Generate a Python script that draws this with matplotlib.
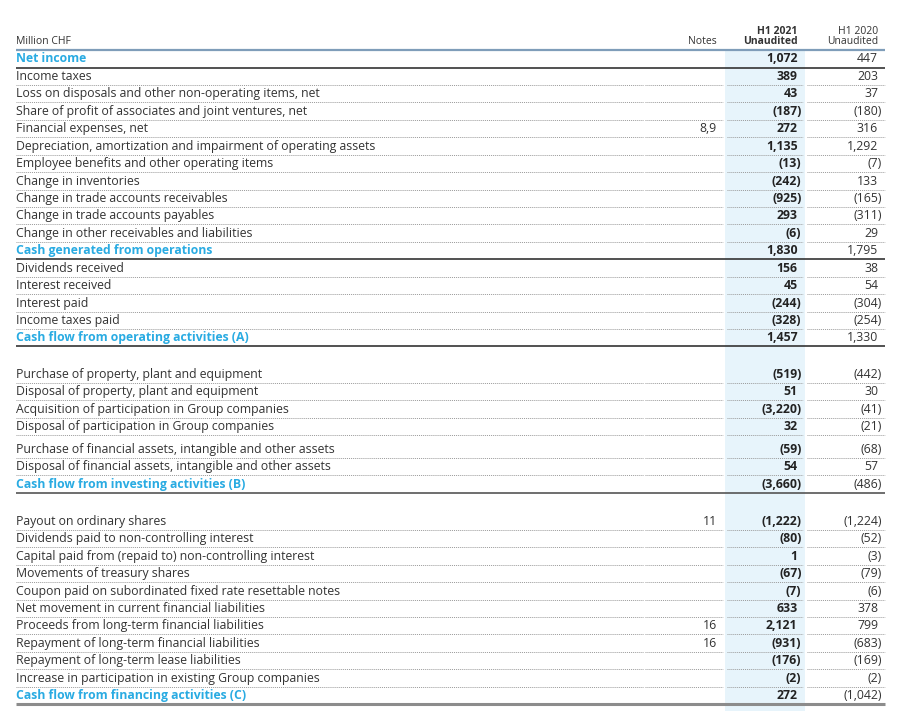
import matplotlib
matplotlib.use('Agg')
import matplotlib.pyplot as plt

plt.rcParams['font.family'] = ['Open Sans', 'DejaVu Sans']

# ---- data ----
labels = [
    'Net income',
    'Income taxes',
    'Loss on disposals and other non-operating items, net',
    'Share of profit of associates and joint ventures, net',
    'Financial expenses, net',
    'Depreciation, amortization and impairment of operating assets',
    'Employee benefits and other operating items',
    'Change in inventories',
    'Change in trade accounts receivables',
    'Change in trade accounts payables',
    'Change in other receivables and liabilities',
    'Cash generated from operations',
    'Dividends received',
    'Interest received',
    'Interest paid',
    'Income taxes paid',
    'Cash flow from operating activities (A)',
    'Purchase of property, plant and equipment',
    'Disposal of property, plant and equipment',
    'Acquisition of participation in Group companies',
    'Disposal of participation in Group companies',
    'Purchase of financial assets, intangible and other assets',
    'Disposal of financial assets, intangible and other assets',
    'Cash flow from investing activities (B)',
    'Payout on ordinary shares',
    'Dividends paid to non-controlling interest',
    'Capital paid from (repaid to) non-controlling interest',
    'Movements of treasury shares',
    'Coupon paid on subordinated fixed rate resettable notes',
    'Net movement in current financial liabilities',
    'Proceeds from long-term financial liabilities',
    'Repayment of long-term financial liabilities',
    'Repayment of long-term lease liabilities',
    'Increase in participation in existing Group companies',
    'Cash flow from financing activities (C)',
]

notes = {4: '8,9', 24: '11', 30: '16', 31: '16'}

h1_2021 = [1072, 389, 43, -187, 272, 1135, -13, -242, -925, 293, -6, 1830,
           156, 45, -244, -328, 1457,
           -519, 51, -3220, 32, -59, 54, -3660,
           -1222, -80, 1, -67, -7, 633, 2121, -931, -176, -2, 272]

h1_2020 = [447, 203, 37, -180, 316, 1292, -7, 133, -165, -311, 29, 1795,
           38, 54, -304, -254, 1330,
           -442, 30, -41, -21, -68, 57, -486,
           -1224, -52, -3, -79, -6, 378, 799, -683, -169, -2, -1042]

highlight_rows = {0, 11, 16, 23, 34}
# line style drawn under each row
solid_below = {0: '#333333', 11: '#333333', 16: '#333333', 23: '#555555'}
no_line_below = {34}
extra_gap_after = {16: 19.0, 20: 5.5, 23: 19.5}

# ---- layout (pixel coords) ----
W, H = 899, 711
BLUE = '#29abe2'
TEXT = '#333333'
FS = 8.8
HFS = 7.5

fig = plt.figure(figsize=(W / 100, H / 100), dpi=100)
ax = fig.add_axes([0, 0, 1, 1])
ax.set_xlim(0, W)
ax.set_ylim(H, 0)
ax.axis('off')

x_label = 16
x_notes = 717
x_cur = 797.5
x_prev = 878
paren = 4
x_end = 885
segments = [(x_label, 643), (645, 723), (727, 803), (807, x_end)]

pitch = 17.43
ys = []
y = 59
for i in range(len(labels)):
    ys.append(y)
    y += pitch + extra_gap_after.get(i, 0)

# shaded current-year column
ax.add_patch(plt.Rectangle((725, 50), 80, H - 50, color='#e7f4fb', lw=0, zorder=0))

# header
ax.text(x_label, 42, 'Million CHF', fontsize=HFS, color=TEXT, va='center')
ax.text(x_notes, 42, 'Notes', fontsize=HFS, color=TEXT, va='center', ha='right')
ax.text(x_cur, 31, 'H1 2021', fontsize=HFS, color=TEXT, va='center', ha='right', fontweight='bold')
ax.text(x_cur, 42, 'Unaudited', fontsize=HFS, color=TEXT, va='center', ha='right', fontweight='bold')
ax.text(x_prev, 31, 'H1 2020', fontsize=HFS, color=TEXT, va='center', ha='right')
ax.text(x_prev, 42, 'Unaudited', fontsize=HFS, color=TEXT, va='center', ha='right')
ax.plot([x_label, x_end], [50, 50], color='#7f9db9', lw=1.6, solid_capstyle='butt')


def fmt(v):
    s = f'{abs(v):,}'
    return f'({s})' if v < 0 else s


for i, lab in enumerate(labels):
    yy = ys[i]
    hl = i in highlight_rows
    ax.text(x_label, yy, lab, fontsize=FS, va='center',
            color=BLUE if hl else TEXT, fontweight='bold' if hl else 'normal')
    if i in notes:
        ax.text(x_notes, yy, notes[i], fontsize=FS, va='center', ha='right', color=TEXT)
    v1, v2 = h1_2021[i], h1_2020[i]
    ax.text(x_cur + (paren if v1 < 0 else 0), yy, fmt(v1), fontsize=FS, va='center',
            ha='right', color='#222222', fontweight='bold')
    ax.text(x_prev + (paren if v2 < 0 else 0), yy, fmt(v2), fontsize=FS, va='center',
            ha='right', color=TEXT)

    yl = yy + 8.5
    if i in solid_below:
        ax.plot([x_label, x_end], [yl, yl], color=solid_below[i], lw=1.2, solid_capstyle='butt')
    elif i in no_line_below:
        ax.plot([x_label, x_end], [yl, yl], color='#8c8c8c', lw=2.2, solid_capstyle='butt')
    else:
        for a, b in segments:
            ax.plot([a, b], [yl, yl], color='#9a9a9a', lw=0.7, linestyle=(0, (1, 1)))

fig.savefig('out.png', dpi=100)
